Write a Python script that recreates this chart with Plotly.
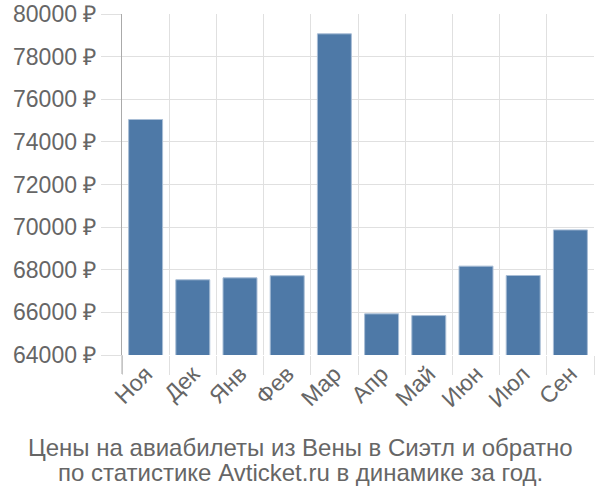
import plotly.graph_objects as go

months = ["Ноя", "Дек", "Янв", "Фев", "Мар", "Апр", "Май", "Июн", "Июл", "Сен"]
prices = [75050, 67530, 67620, 67720, 79070, 65930, 65850, 68170, 67730, 69870]
y_ticks = [64000, 66000, 68000, 70000, 72000, 74000, 76000, 78000, 80000]
y_tick_text = [f"{v} ₽" for v in y_ticks]
title_lines = ["Цены на авиабилеты из Вены в Сиэтл и обратно",
               "по статистике Avticket.ru в динамике за год."]

FONT = "Liberation Sans, Arial, sans-serif"
GRID = "#e0e0e0"
TXT = "#666666"
FS = 23

fig = go.Figure(go.Bar(
    x=months, y=prices,
    marker=dict(color="#4e79a7", line=dict(color="#a9bed6", width=1)),
))

fig.update_layout(
    width=600, height=500,
    margin=dict(l=122, r=6, t=14, b=145),
    plot_bgcolor="white", paper_bgcolor="white",
    bargap=0.28,
    showlegend=False,
    font=dict(family=FONT, size=FS, color=TXT),
)
for i, line in enumerate(title_lines):
    fig.add_annotation(text=line, xref="paper", yref="paper",
                       x=(300 - 122) / 472, y=(355 - (447 + 25 * i)) / 341,
                       xanchor="center", yanchor="middle", showarrow=False,
                       font=dict(family=FONT, size=24, color=TXT))

fig.update_xaxes(
    type="category", tickson="boundaries", ticks="outside", ticklen=19,
    tickcolor=GRID, showgrid=True, gridcolor=GRID, gridwidth=1,
    tickangle=-45, tickfont=dict(size=FS, color=TXT),
    showline=False, zeroline=False, automargin=False,
)
fig.update_yaxes(
    range=[64000, 80000], tickvals=y_ticks, ticktext=y_tick_text,
    ticks="outside", ticklen=20, tickcolor=GRID,
    showgrid=True, gridcolor=GRID, gridwidth=1,
    showline=True, linecolor="#aaaaaa", linewidth=1,
    tickfont=dict(size=FS, color=TXT), zeroline=False, automargin=False,
)
fig.add_shape(type="line", xref="paper", yref="paper", x0=0, x1=0, y0=-19/341, y1=0,
              line=dict(color="#aaaaaa", width=1))

fig.write_html("out.html")
